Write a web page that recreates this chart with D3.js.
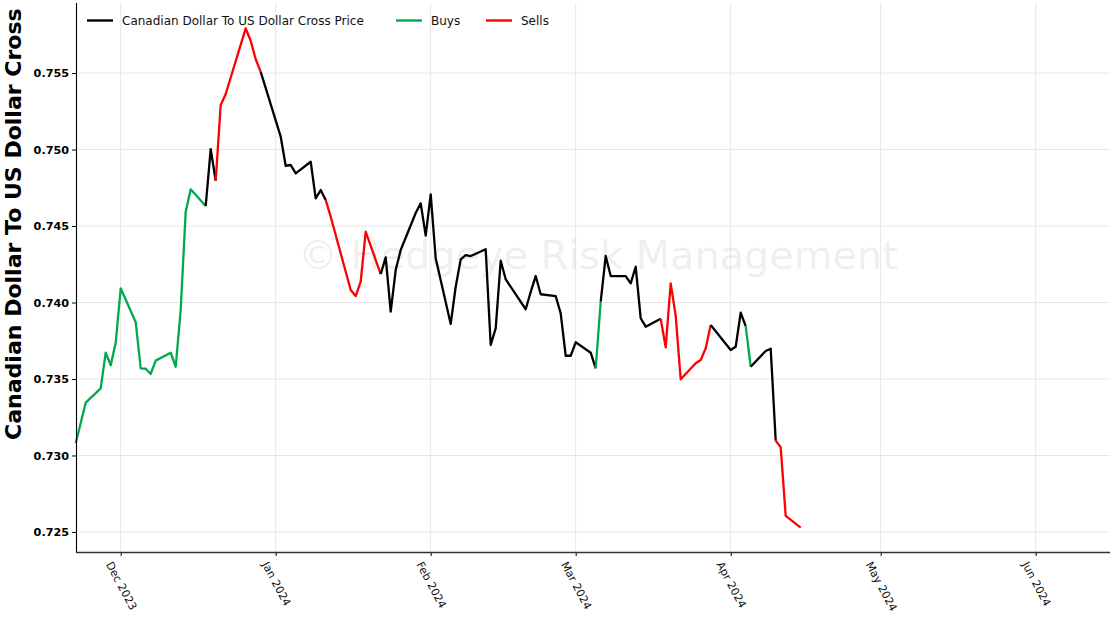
<!DOCTYPE html>
<html><head><meta charset="utf-8">
<script src="https://cdn.jsdelivr.net/npm/d3@7"></script>
<style>body{margin:0;background:#fff} svg{display:block}</style>
</head><body>
<svg id="c" width="1113" height="620"></svg>
<script>
// ---------------- data ----------------
const dates = [
"2023-11-22","2023-11-24","2023-11-27","2023-11-28","2023-11-29","2023-11-30","2023-12-01",
"2023-12-04","2023-12-05","2023-12-06","2023-12-07","2023-12-08",
"2023-12-11","2023-12-12","2023-12-13","2023-12-14","2023-12-15",
"2023-12-18","2023-12-19","2023-12-20","2023-12-21","2023-12-22",
"2023-12-26","2023-12-27","2023-12-28","2023-12-29",
"2024-01-02","2024-01-03","2024-01-04","2024-01-05",
"2024-01-08","2024-01-09","2024-01-10","2024-01-11","2024-01-12",
"2024-01-16","2024-01-17","2024-01-18","2024-01-19",
"2024-01-22","2024-01-23","2024-01-24","2024-01-25","2024-01-26",
"2024-01-29","2024-01-30","2024-01-31","2024-02-01","2024-02-02",
"2024-02-05","2024-02-06","2024-02-07","2024-02-08","2024-02-09",
"2024-02-12","2024-02-13","2024-02-14","2024-02-15","2024-02-16",
"2024-02-20","2024-02-21","2024-02-22","2024-02-23",
"2024-02-26","2024-02-27","2024-02-28","2024-02-29","2024-03-01",
"2024-03-04","2024-03-05","2024-03-06","2024-03-07","2024-03-08",
"2024-03-11","2024-03-12","2024-03-13","2024-03-14","2024-03-15",
"2024-03-18","2024-03-19","2024-03-20","2024-03-21","2024-03-22",
"2024-03-25","2024-03-26","2024-03-27","2024-03-28",
"2024-04-01","2024-04-02","2024-04-03","2024-04-04","2024-04-05",
"2024-04-08","2024-04-09","2024-04-10","2024-04-11","2024-04-12",
"2024-04-15"];
const prices = [
0.73080,0.73345,0.73439,0.73672,0.73590,0.73737,0.74093,
0.73871,0.73570,0.73567,0.73533,0.73620,
0.73672,0.73580,0.73951,0.74594,0.74740,
0.74631,0.75003,0.74796,0.75291,0.75363,
0.75792,0.75711,0.75590,0.75508,
0.75084,0.74894,0.74899,0.74844,
0.74920,0.74681,0.74735,0.74670,0.74561,
0.74082,0.74042,0.74136,0.74463,
0.74186,0.74295,0.73940,0.74212,0.74343,
0.74585,0.74648,0.74437,0.74707,0.74289,
0.73860,0.74103,0.74282,0.74310,0.74304,
0.74348,0.73722,0.73831,0.74273,0.74152,
0.73956,0.74069,0.74173,0.74054,
0.74042,0.73929,0.73652,0.73652,0.73740,
0.73672,0.73570,0.74005,0.74304,0.74173,
0.74173,0.74125,0.74234,0.73897,0.73842,
0.73894,0.73707,0.74125,0.73913,0.73498,
0.73603,0.73624,0.73701,0.73853,
0.73690,0.73711,0.73933,0.73846,0.73580,
0.73683,0.73698,0.73097,0.73054,0.72605,
0.72528];
// signal in force from each date to the next: B = buy, S = sell, N = none
const signals = (
"BBBBBBB"+"BBBBB"+"BBBBB"+"NNSSS"+"SSSN"+"NNNN"+"NNNSS"+"SSSS"+
"NNNNN"+"NNNNN"+"NNNNN"+"NNNNN"+"NNNN"+"NNNNN"+"NBNNN"+"NNNNN"+
"SSSSS"+"SSSN"+"NNNBN"+"NNSSS"+"S").split("");
const yTicks = [0.725,0.730,0.735,0.740,0.745,0.750,0.755];
const xTickDates = ["2023-12-01","2024-01-01","2024-02-01","2024-03-01","2024-04-01","2024-05-01","2024-06-01"];
const xTickLabels = ["Dec 2023","Jan 2024","Feb 2024","Mar 2024","Apr 2024","May 2024","Jun 2024"];
const seriesName = "Canadian Dollar To US Dollar Cross Price";
const legendLabels = [seriesName, "Buys", "Sells"];
const yLabel = "Canadian Dollar To US Dollar Cross";
const watermark = "\u00A9 Hedgeye Risk Management";
const colorOf = {N:"#000000", B:"#00a94f", S:"#ff0000"};

// ---------------- layout ----------------
const svg = d3.select("#c");
const font = "'DejaVu Sans', sans-serif";
const L = 76, R = 1110, T = 3, B = 552;
const parse = s => new Date(s + "T00:00:00Z");
const x = d3.scaleUtc()
  .domain([parse("2023-11-22"), new Date(Date.UTC(2024,5,15,20,40))])
  .range([75.7, R]);
const y = d3.scaleLinear().domain([0.72369, 0.75958]).range([B, T]);

// grid
const g = svg.append("g");
g.selectAll("line.gy").data(yTicks).join("line")
  .attr("x1", L).attr("x2", R).attr("y1", d=>y(d)).attr("y2", d=>y(d))
  .attr("stroke", "#e6e6e6").attr("stroke-width", 1);
g.selectAll("line.gx").data(xTickDates).join("line")
  .attr("x1", d=>x(parse(d))).attr("x2", d=>x(parse(d))).attr("y1", T).attr("y2", B)
  .attr("stroke", "#e6e6e6").attr("stroke-width", 1);

// watermark
svg.append("text").attr("x", 598).attr("y", 269).attr("text-anchor","middle")
  .attr("font-family", font).attr("font-size", 39.8).attr("fill", "#000").attr("fill-opacity", 0.085)
  .text(watermark);

// price line, split into coloured runs
const pts = dates.map((d,i)=>({d:parse(d), v:prices[i]}));
const line = d3.line().x(p=>x(p.d)).y(p=>y(p.v));
const runs = [];
for (let i=0;i<pts.length-1;i++){
  const c = signals[i];
  if (runs.length && runs[runs.length-1].c===c) runs[runs.length-1].p.push(pts[i+1]);
  else runs.push({c, p:[pts[i], pts[i+1]]});
}
svg.append("g").selectAll("path").data(runs).join("path")
  .attr("d", r=>line(r.p)).attr("fill","none")
  .attr("stroke", r=>colorOf[r.c]).attr("stroke-width", 2.3)
  .attr("stroke-linejoin","round").attr("stroke-linecap","butt");

// axes
const ya = svg.append("g").attr("transform", `translate(${L},0)`)
  .call(d3.axisLeft(y).tickValues(yTicks).tickFormat(d3.format(".3f")).tickSize(4).tickPadding(3));
ya.select(".domain").remove();
ya.selectAll("text").attr("font-family", font).attr("font-size", 11.2).attr("font-weight","bold").attr("fill","#000");
ya.selectAll("line").attr("stroke","#000");
svg.append("line").attr("x1", L+0.5).attr("x2", L+0.5).attr("y1", T).attr("y2", B+1)
  .attr("stroke","#000").attr("stroke-width",1.1);

const xa = svg.append("g").attr("transform", `translate(0,${B})`)
  .call(d3.axisBottom(x).tickValues(xTickDates.map(parse)).tickFormat((d,i)=>xTickLabels[i]).tickSize(4));
xa.select(".domain").remove();
xa.selectAll("line").attr("stroke","#000");
const ang = 62;
xa.selectAll("text").each(function(){
  const t = d3.select(this);
  t.attr("font-family", font).attr("font-size", 11).attr("fill","#111").attr("y",null).attr("dy",null);
  const len = this.getComputedTextLength();
  const rad = ang*Math.PI/180;
  const H = len*Math.sin(rad) + 11*Math.cos(rad);
  t.attr("text-anchor","middle").attr("dominant-baseline","central")
   .attr("transform", `translate(0,${8 + H/2}) rotate(${ang})`);
});
svg.append("line").attr("x1", L).attr("x2", R).attr("y1", B+0.5).attr("y2", B+0.5)
  .attr("stroke","#333").attr("stroke-width",1.6);

// y label: spans from y=440 up to about y=7
const yl = svg.append("text").attr("transform", "translate(21,440) rotate(-90)")
  .attr("font-family", font).attr("font-size", 22).attr("font-weight","bold").attr("fill","#000")
  .text(yLabel);
const ylLen = yl.node().getComputedTextLength();
yl.attr("font-size", 22 * 432 / ylLen);

// legend
const leg = svg.append("g");
const legItems = [
  {label: legendLabels[0], c: colorOf.N, x: 87},
  {label: legendLabels[1], c: colorOf.B, x: 396},
  {label: legendLabels[2], c: colorOf.S, x: 486}];
legItems.forEach(it=>{
  leg.append("line").attr("x1", it.x).attr("x2", it.x+26).attr("y1", 20.5).attr("y2", 20.5)
    .attr("stroke", it.c).attr("stroke-width", 2.4);
  leg.append("text").attr("x", it.x+35).attr("y", 24.5).attr("font-family", font).attr("font-size", 12)
    .attr("fill","#111").text(it.label);
});
</script>
</body></html>
